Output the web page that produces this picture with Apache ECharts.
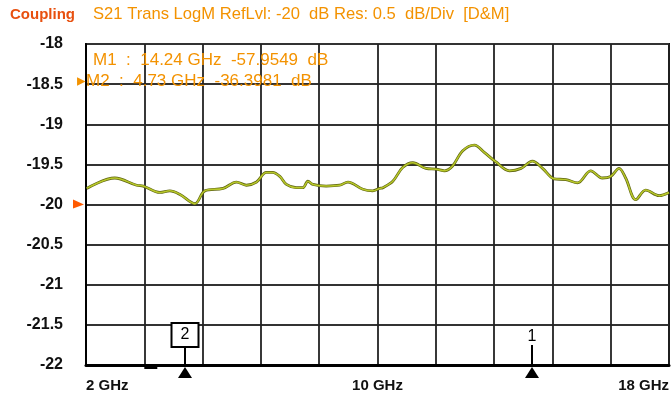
<!DOCTYPE html>
<html>
<head>
<meta charset="utf-8">
<script src="https://cdn.jsdelivr.net/npm/echarts@6/dist/echarts.min.js"></script>
<style>
html,body{margin:0;padding:0;background:#fff;}
#chart{width:672px;height:402px;}
</style>
</head>
<body>
<div id="chart"></div>
<script>
// ---- data ----
const startFreq = 2;      // GHz
const stopFreq = 18;      // GHz
const freqPerDiv = 1.6;   // GHz
const refLevel = -20;     // dB
const yMin = -22;
const yMax = -18;
const yStep = 0.5;
const xLabelFreqs = [2, 10, 18];

const traceFreqs = [2.02,2.79,3.39,3.57,4.03,4.30,4.58,4.99,5.26,5.76,6.13,6.40,6.68,6.95,7.12,7.32,7.50,7.77,7.95,8.09,8.23,8.59,8.96,9.19,9.60,9.87,10.05,10.15,10.42,10.69,10.97,11.33,11.61,11.84,12.06,12.34,12.66,12.93,13.25,13.62,13.94,14.25,14.53,14.85,15.17,15.49,15.85,16.17,16.40,16.63,16.81,17.09,17.36,17.73,18.0];
const traceValues = [-19.80,-19.67,-19.76,-19.77,-19.85,-19.83,-19.875,-19.99,-19.83,-19.80,-19.72,-19.76,-19.72,-19.60,-19.60,-19.65,-19.75,-19.79,-19.79,-19.71,-19.75,-19.77,-19.76,-19.72,-19.81,-19.83,-19.80,-19.79,-19.71,-19.54,-19.48,-19.55,-19.56,-19.58,-19.52,-19.33,-19.26,-19.35,-19.47,-19.58,-19.55,-19.46,-19.55,-19.68,-19.69,-19.73,-19.58,-19.67,-19.65,-19.55,-19.67,-19.94,-19.82,-19.89,-19.85];

const markerNames = ['1', '2'];
const markerFreqs = [14.24, 4.73];
const markerAmps = [-57.9549, -36.3981];
const activeMarker = '2';
const stopMarkFreq = 3.6;

// ---- build ----
const traceData = traceFreqs.map((f, i) => [f - startFreq, traceValues[i]]);
const markerData = markerFreqs.map((f, i) => [f - startFreq, yMin, i]);

const chart = echarts.init(document.getElementById('chart'), null, {renderer: 'canvas'});

const fontFam = '"Liberation Sans", Arial, sans-serif';
const orange = '#f39200';

const option = {
  backgroundColor: '#ffffff',
  animation: false,
  grid: {left: 86, top: 44, width: 584, height: 321, show: true, borderColor: '#111', borderWidth: 2, backgroundColor: 'transparent'},
  xAxis: {
    type: 'value', min: 0, max: stopFreq - startFreq, interval: freqPerDiv,
    axisLine: {show: true, lineStyle: {color: '#000', width: 3}},
    axisTick: {show: false},
    splitLine: {show: true, lineStyle: {color: '#222', width: 1.8}},
    axisLabel: {
      margin: 13, color: '#111', fontFamily: fontFam, fontWeight: 'bold', fontSize: 15,
      alignMinLabel: 'left', alignMaxLabel: 'right',
      formatter: v => {
        const f = Math.round((v + startFreq) * 100) / 100;
        return xLabelFreqs.includes(f) ? f + ' GHz' : '';
      }
    }
  },
  yAxis: {
    type: 'value', min: yMin, max: yMax, interval: yStep,
    axisLine: {show: true, lineStyle: {color: '#000', width: 2}},
    axisTick: {show: false},
    splitLine: {show: true, lineStyle: {color: '#333', width: 1.8}},
    axisLabel: {margin: 23, color: '#111', fontFamily: fontFam, fontWeight: 'bold', fontSize: 16}
  },
  graphic: [
    {type: 'text', left: 10, top: 7, style: {text: 'Coupling', fill: '#e8500f', font: 'bold 15px ' + fontFam}},
    {type: 'text', left: 93, top: 6, style: {text: 'S21 Trans LogM RefLvl: -20  dB Res: 0.5  dB/Div  [D&M]', fill: orange, font: '16.6px ' + fontFam}},
    {type: 'text', left: 93, top: 52, z: 100, style: {text: 'M' + markerNames[0] + '  :  ' + markerFreqs[0].toFixed(2) + ' GHz  ' + markerAmps[0].toFixed(4) + '  dB', fill: orange, font: '17px ' + fontFam}},
    {type: 'text', left: 77, top: 73, z: 100, style: {text: '\u25B8M' + markerNames[1] + '  :  ' + markerFreqs[1].toFixed(2) + ' GHz  ' + markerAmps[1].toFixed(4) + '  dB', fill: orange, font: '17px ' + fontFam}}
  ],
  series: [
    {type: 'line', data: traceData, showSymbol: false, smooth: 0.35, z: 3,
     lineStyle: {color: '#5e6410', width: 2.8}},
    {type: 'line', data: traceData, showSymbol: false, smooth: 0.35, z: 4,
     lineStyle: {color: '#b8c82a', width: 1.5}},
    {type: 'custom', data: markerData, clip: false, z: 10,
     renderItem: (params, api) => {
       const p = api.coord([api.value(0), api.value(1)]);
       const x = Math.round(p[0]), y = p[1];
       const name = markerNames[api.value(2)];
       const children = [
         {type: 'polygon', shape: {points: [[x, y + 2], [x - 7, y + 13], [x + 7, y + 13]]}, style: {fill: '#000'}}
       ];
       if (name === activeMarker) {
         children.push({type: 'rect', shape: {x: x - 13.5, y: y - 42, width: 27, height: 24}, style: {fill: '#fff', stroke: '#000', lineWidth: 2}});
         children.push({type: 'text', x: x, y: y - 30, style: {text: name, fill: '#000', font: '16px ' + fontFam, align: 'center', verticalAlign: 'middle'}});
         children.push({type: 'line', shape: {x1: x, y1: y - 18, x2: x, y2: y}, style: {stroke: '#000', lineWidth: 2}});
       } else {
         children.push({type: 'text', x: x, y: y - 28, style: {text: name, fill: '#000', font: '16px ' + fontFam, align: 'center', verticalAlign: 'middle'}});
         children.push({type: 'line', shape: {x1: x, y1: y - 20, x2: x, y2: y}, style: {stroke: '#000', lineWidth: 2}});
       }
       return {type: 'group', children};
     }},
    {type: 'custom', data: [[0, refLevel]], clip: false, z: 10,
     renderItem: (params, api) => {
       const p = api.coord([api.value(0), api.value(1)]);
       return {type: 'polygon', shape: {points: [[p[0] - 13, p[1] - 5], [p[0] - 13, p[1] + 4], [p[0] - 2, p[1]]]},
               style: {fill: '#ff5a00'}};
     }},
    {type: 'custom', data: [[stopMarkFreq - startFreq, yMin]], clip: false, z: 10,
     renderItem: (params, api) => {
       const p = api.coord([api.value(0), api.value(1)]);
       return {type: 'rect', shape: {x: p[0], y: p[1] + 1, width: 13, height: 3}, style: {fill: '#000'}};
     }}
  ]
};
chart.setOption(option);
</script>
</body>
</html>
